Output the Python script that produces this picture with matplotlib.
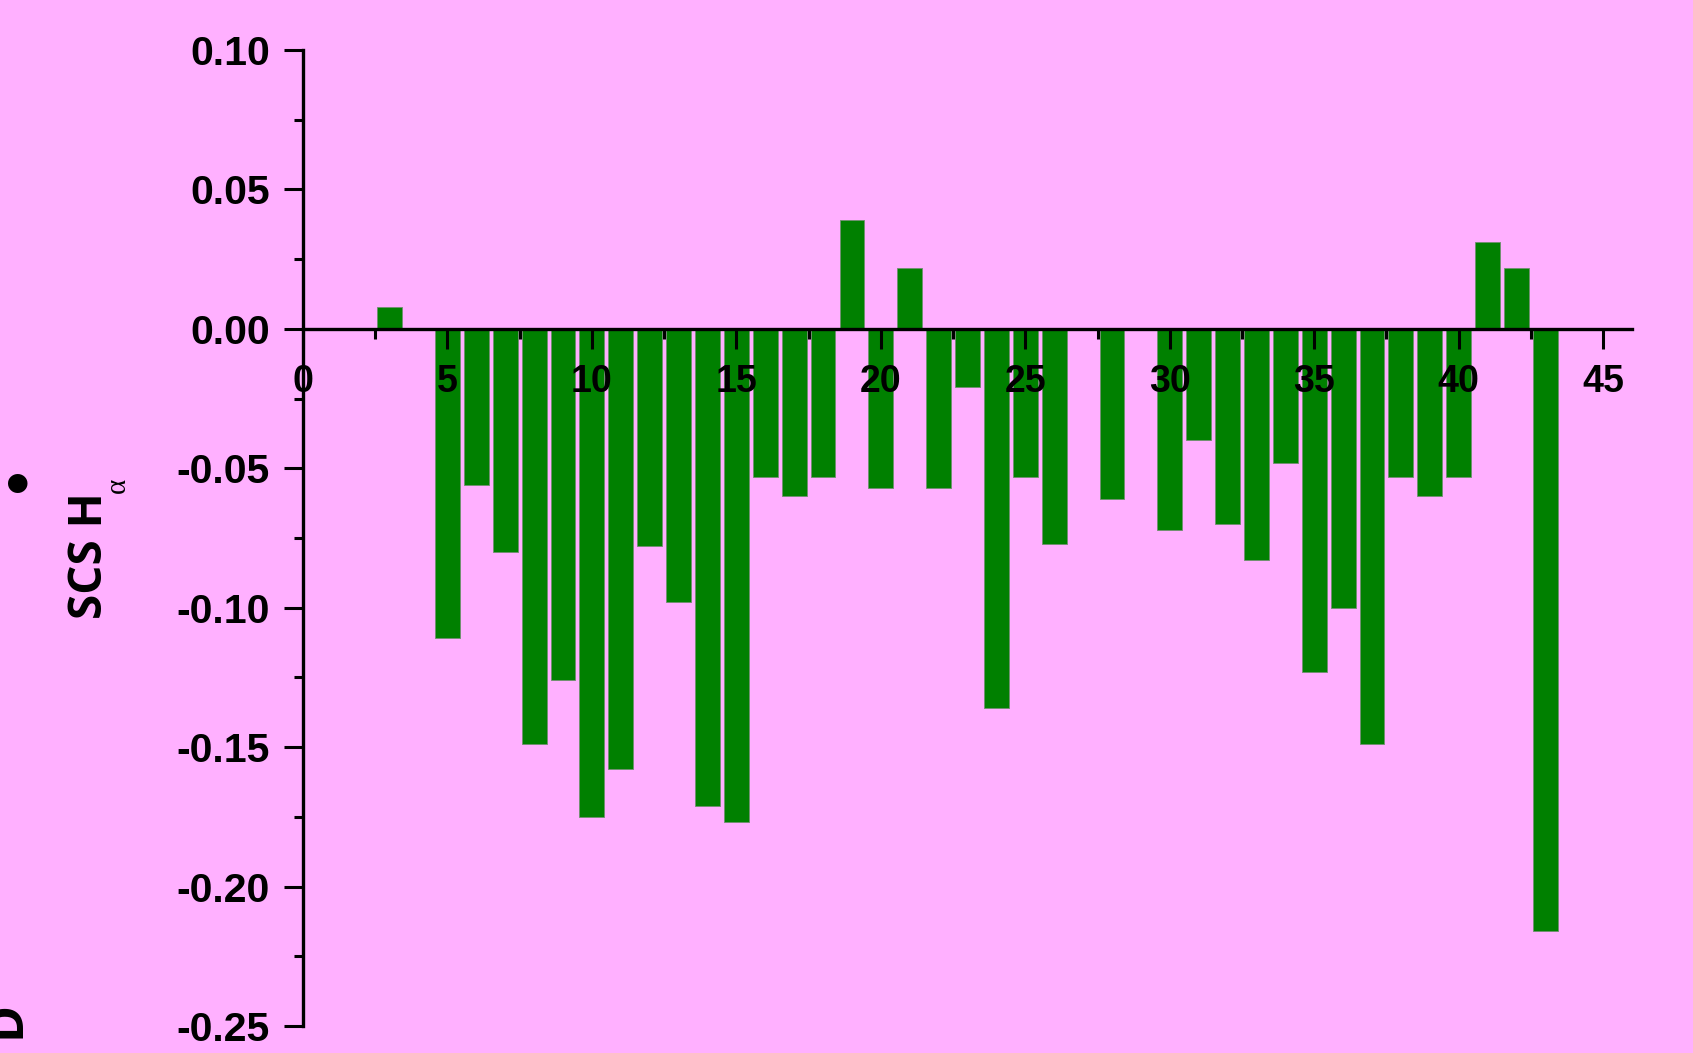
# SCS H-alpha bar chart
import matplotlib
matplotlib.use('Agg')
import matplotlib.pyplot as plt
from matplotlib import font_manager as fm
from matplotlib.ticker import MultipleLocator, FormatStrFormatter

# Data: residue number and secondary chemical shift
residues = [3, 5, 6, 7, 8, 9, 10, 11, 12, 13, 14, 15, 16, 17, 18, 19, 20, 21, 22,
            23, 24, 25, 26, 28, 30, 31, 32, 33, 34, 35, 36, 37, 38, 39, 40, 41, 42, 43]
scs_ha = [0.008, -0.111, -0.056, -0.080, -0.149, -0.126, -0.175, -0.158, -0.078,
          -0.098, -0.171, -0.177, -0.053, -0.060, -0.053, 0.039, -0.057, 0.022,
          -0.057, -0.021, -0.136, -0.053, -0.077, -0.061, -0.072, -0.040, -0.070,
          -0.083, -0.048, -0.123, -0.100, -0.149, -0.053, -0.060, -0.053, 0.031,
          0.022, -0.216]

x_ticks = [0, 5, 10, 15, 20, 25, 30, 35, 40, 45]
y_ticks = [0.10, 0.05, 0.00, -0.05, -0.10, -0.15, -0.20, -0.25]

bg = '#FFB0FF'
bar_color = '#008000'

# pick a narrow font for the x labels if there is one
names = {f.name for f in fm.fontManager.ttflist}
narrow = 'Liberation Sans Narrow' if 'Liberation Sans Narrow' in names else 'Liberation Sans'

W, H = 1693, 1053
fig = plt.figure(figsize=(W / 100, H / 100), dpi=100, facecolor=bg)
ax = fig.add_axes([303 / W, 1 - 1026 / H, (1632 - 303) / W, (1026 - 50) / H])
ax.set_facecolor(bg)

ax.bar(residues, scs_ha, width=0.86, color=bar_color, edgecolor='#6f8f6f',
       linewidth=0.6, zorder=1)

ax.set_xlim(0, 46)
ax.set_ylim(-0.25, 0.10)

# spines: x axis sits on zero
ax.spines['top'].set_visible(False)
ax.spines['right'].set_visible(False)
ax.spines['bottom'].set_position(('data', 0))
for s in ('left', 'bottom'):
    ax.spines[s].set_linewidth(2.4)
    ax.spines[s].set_zorder(3)

ax.set_xticks(x_ticks)
ax.set_yticks(y_ticks)
ax.xaxis.set_minor_locator(MultipleLocator(2.5))
ax.yaxis.set_minor_locator(MultipleLocator(0.025))
ax.yaxis.set_major_formatter(FormatStrFormatter('%.2f'))

ax.tick_params(axis='x', which='major', direction='out', length=14.4, width=2.2, pad=11)
ax.tick_params(axis='x', which='minor', direction='out', length=7.2, width=2.2)
ax.tick_params(axis='y', which='major', direction='out', length=13.7, width=2.2, pad=10)
ax.tick_params(axis='y', which='minor', direction='out', length=6.5, width=2.2)

for lab in ax.get_xticklabels():
    lab.set_fontfamily(narrow)
    lab.set_fontweight('bold')
    lab.set_fontsize(30 if narrow != 'Liberation Sans' else 27)
for lab in ax.get_yticklabels():
    lab.set_fontfamily('Liberation Sans')
    lab.set_fontweight('bold')
    lab.set_fontsize(29.5)

# y label, with a separate subscript alpha
fig.text(102 / W, 1 - 556 / H, 'SCS H', rotation=90, rotation_mode='anchor',
         ha='center', va='baseline', family='Open Sans', weight='bold', fontsize=33)
fig.text(125 / W, 1 - 493 / H, '\u03b1', rotation=90, rotation_mode='anchor',
         ha='left', va='baseline', family='Liberation Serif', fontsize=21)

# panel label, mostly cut off at the left edge
fig.text(19 / W, 1 - 1020 / H, 'D', rotation=90, rotation_mode='anchor',
         ha='center', va='baseline', family='Open Sans', weight='bold', fontsize=36)
fig.text(18 / W, 1 - 489 / H, '\u2022', ha='center', va='center',
         family='DejaVu Sans', weight='bold', fontsize=40)

fig.savefig('out.png', dpi=100, facecolor=bg)
